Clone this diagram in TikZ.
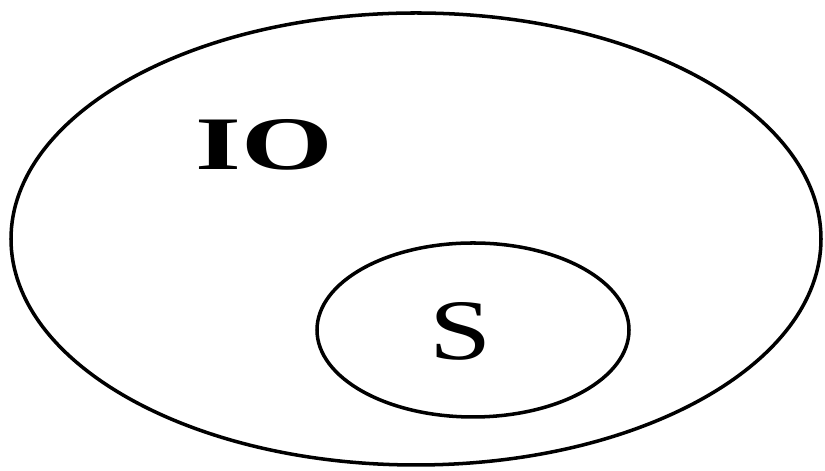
\documentclass[tikz,border=0pt]{standalone}
\usepackage{fontspec}
\setmainfont{Liberation Serif}
\usetikzlibrary{shapes.geometric,positioning}

\tikzset{
  setline/.style={draw, ellipse, line width=2pt, inner sep=0pt},
  setlabel/.style={font=\rmfamily, inner sep=0pt}
}

\begin{document}
\begin{tikzpicture}

% frame of the picture
\useasboundingbox (0,0) rectangle (16.5,9.42);

% 1. Outer set IO
\node[setline, minimum width=16.2cm, minimum height=9.04cm] (io) at (8.32,4.64) {};
\node[setlabel, font=\fontsize{43}{43}\selectfont\bfseries] (iolabel) at (5.28,6.52) {\scalebox{1.56}[1]{IO}};

% 2. Inner set S
\node[setline, minimum width=6.24cm, minimum height=3.48cm] (s) at (9.46,2.82) {};
\node[setlabel, font=\fontsize{49}{49}\selectfont] (slabel) at (9.22,2.80) {\scalebox{1.3}[1]{S}};

\end{tikzpicture}
\end{document}
